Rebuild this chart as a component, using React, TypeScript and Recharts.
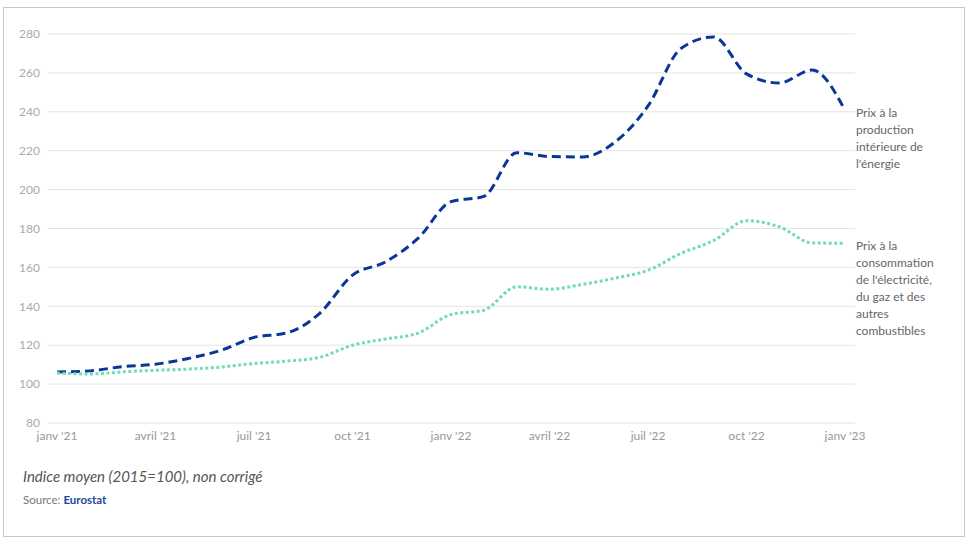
import { LineChart, Line, XAxis, YAxis, CartesianGrid } from 'recharts';

const months = [
  'janv 21', 'févr 21', 'mars 21', 'avril 21', 'mai 21', 'juin 21',
  'juil 21', 'août 21', 'sept 21', 'oct 21', 'nov 21', 'déc 21',
  'janv 22', 'févr 22', 'mars 22', 'avril 22', 'mai 22', 'juin 22',
  'juil 22', 'août 22', 'sept 22', 'oct 22', 'nov 22', 'déc 22',
  'janv 23',
];

const tickLabels: Record<string, string> = {
  'janv 21': "janv '21",
  'avril 21': "avril '21",
  'juil 21': "juil '21",
  'oct 21': "oct '21",
  'janv 22': "janv '22",
  'avril 22': "avril '22",
  'juil 22': "juil '22",
  'oct 22': "oct '22",
  'janv 23': "janv '23",
};

const production = [
  106.2, 106.8, 109.0, 110.2, 113.2, 117.4, 124.0, 126.3, 136.4, 156.0, 162.8, 175.0,
  193.8, 196.5, 219.0, 217.0, 216.8, 224.5, 243.0, 272.5, 278.5, 259.5, 254.8, 261.5,
  240.8,
];

const consommation = [
  105.7, 105.2, 106.3, 107.1, 107.7, 108.8, 110.6, 111.8, 113.8, 120.0, 123.2, 126.2,
  135.8, 138.0, 150.0, 148.8, 151.2, 154.5, 158.5, 167.2, 173.8, 184.0, 180.9, 172.6,
  172.4,
];

const yTicks = [80, 100, 120, 140, 160, 180, 200, 220, 240, 260, 280];

const productionLabel = ['Prix à la', 'production', 'intérieure de', "l'énergie"];
const consommationLabel = [
  'Prix à la', 'consommation', "de l'électricité,", 'du gaz et des', 'autres', 'combustibles',
];

const data = months.map((m, i) => ({
  month: m,
  production: production[i],
  consommation: consommation[i],
}));

const FONT = 'Lato, "Noto Sans", sans-serif';

function endLabel(lines: string[]) {
  return (props: any) => {
    const { x, y, index } = props;
    if (index !== data.length - 1) return null;
    return (
      <text x={x + 11} y={y + 7} fill="#666" fontSize={12} fontFamily={FONT}>
        {lines.map((l, i) => (
          <tspan key={i} x={x + 11} dy={i === 0 ? 0 : 17}>
            {l}
          </tspan>
        ))}
      </text>
    );
  };
}

export default function App() {
  return (
    <div
      style={{
        position: 'absolute',
        left: 3,
        top: 7,
        width: 960,
        height: 528,
        border: '1px solid #bccbcf',
        background: '#fff',
        fontFamily: FONT,
      }}
    >
      <LineChart
        width={960}
        height={440}
        data={data}
        margin={{ top: 26, right: 109, left: 10, bottom: 0 }}
      >
        <CartesianGrid vertical={false} stroke="#e4e4e4" />
        <XAxis
          dataKey="month"
          ticks={Object.keys(tickLabels)}
          tickFormatter={(v) => tickLabels[v]}
          interval={0}
          axisLine={false}
          tickLine={false}
          padding={{ left: 9, right: 10 }}
          height={25}
          tick={{ fill: '#999', fontSize: 12, fontFamily: FONT }}
        />
        <YAxis
          domain={[80, 280]}
          ticks={yTicks}
          width={34}
          axisLine={false}
          tickLine={false}
          tick={{ fill: '#aaa', fontSize: 12, fontFamily: FONT }}
        />
        <Line
          type="monotone"
          dataKey="production"
          stroke="#0a3797"
          strokeWidth={3}
          strokeDasharray="9 5"
          dot={false}
          activeDot={false}
          isAnimationActive={false}
          label={endLabel(productionLabel)}
        />
        <Line
          type="monotone"
          dataKey="consommation"
          stroke="#72dcb7"
          strokeWidth={3}
          strokeDasharray="3 2.5"
          dot={false}
          activeDot={false}
          isAnimationActive={false}
          label={endLabel(consommationLabel)}
        />
      </LineChart>
      <div
        style={{
          position: 'absolute',
          left: 19,
          top: 459,
          fontSize: 15,
          fontStyle: 'italic',
          color: '#555',
        }}
      >
        Indice moyen (2015=100), non corrigé
      </div>
      <div
        style={{
          position: 'absolute',
          left: 19,
          top: 485,
          fontSize: 11.5,
          color: '#777',
        }}
      >
        Source: <span style={{ color: '#1f4a9a', fontWeight: 'bold' }}>Eurostat</span>
      </div>
    </div>
  );
}
